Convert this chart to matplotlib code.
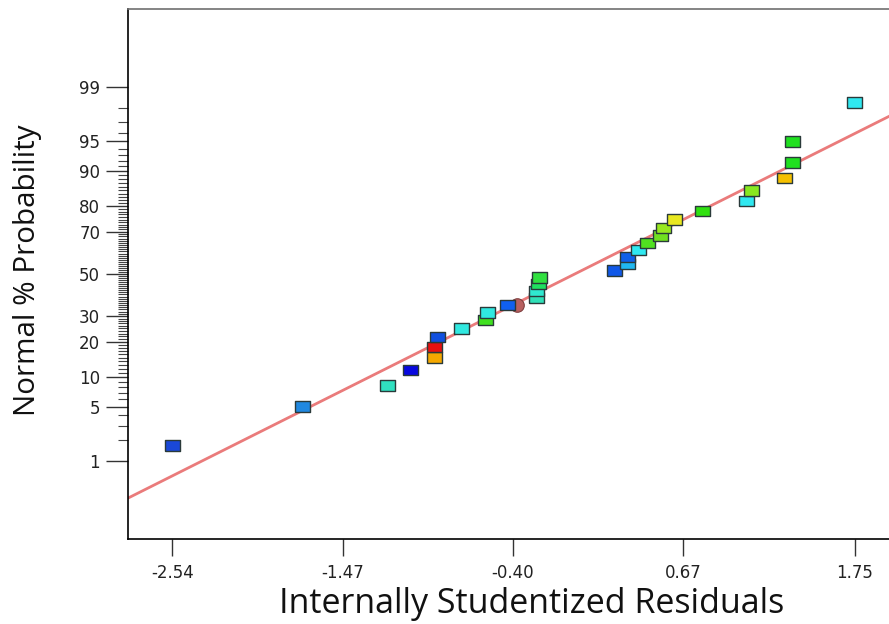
import matplotlib
matplotlib.use("Agg")
import matplotlib.pyplot as plt
import numpy as np
from statistics import NormalDist

# ---- data ----
residuals = [-2.54, -1.72, -1.19, -1.04, -0.89, -0.89, -0.87, -0.72, -0.57, -0.56,
             -0.43, -0.25, -0.25, -0.24, -0.23, 0.24, 0.32, 0.32, 0.39, 0.45,
             0.53, 0.55, 0.62, 0.79, 1.07, 1.10, 1.31, 1.36, 1.36, 1.75]
point_colors = ["#1a48d8", "#2088e0", "#30e0c0", "#0808e0", "#f5a800", "#e81010",
                "#1050e0", "#30e8e0", "#40e020", "#30e8e0", "#1060f0", "#30e0b8",
                "#30e8d0", "#20e060", "#30e040", "#1058e8", "#20b8f0", "#1060e8",
                "#30e8f0", "#50e020", "#70e020", "#98e820", "#e8e820", "#30e010",
                "#30e8f0", "#88e820", "#f5c000", "#20e020", "#20e020", "#30e8f0"]
hidden_x = [-0.375]
hidden_p = [0.35]
hidden_color = "#b86060"

line_mean = -0.01
line_sd = 1.01

x_ticks = [-2.54, -1.47, -0.40, 0.67, 1.75]
x_tick_labels = ["-2.54", "-1.47", "-0.40", "0.67", "1.75"]
y_ticks_pct = [1, 5, 10, 20, 30, 50, 70, 80, 90, 95, 99]
y_minor_pct = list(range(1, 100))

nd = NormalDist()
n = len(residuals)
order = np.argsort(residuals, kind="stable")
probs = [(i + 0.5) / n for i in range(n)]
z_pts = [nd.inv_cdf(p) for p in probs]

fig = plt.figure(figsize=(8.89, 6.24), dpi=100)
ax = fig.add_axes([128 / 889, 85 / 624, 770 / 889, 530 / 624])

xlim = (-2.8185, 2.022)
ax.set_xlim(*xlim)
ax.set_ylim(-3.288, 3.288)

# fitted line
xl = np.array(xlim)
ax.plot(xl, (xl - line_mean) / line_sd, color="#ea7b7b", lw=2.0, zorder=2)

# hidden circle marker
ax.scatter(hidden_x, [nd.inv_cdf(p) for p in hidden_p], s=95, marker="o",
           color=hidden_color, edgecolors="#804040", linewidths=0.8, zorder=3)

rect = [(-1, -0.7), (1, -0.7), (1, 0.7), (-1, 0.7), (-1, -0.7)]
xs = [residuals[k] for k in order]
cs = [point_colors[k] for k in order]
ax.scatter(xs, z_pts, s=10.8 ** 2, marker=rect, c=cs, edgecolors="#2a3a3a",
           linewidths=1.0, zorder=4)

# axes styling
for side in ["left", "bottom"]:
    ax.spines[side].set_color("black")
    ax.spines[side].set_linewidth(1.2)
ax.spines["top"].set_color("#707070")
ax.spines["top"].set_linewidth(1.2)
ax.spines["right"].set_visible(False)

tick_font = dict(family=["DejaVu Sans"], size=12)
ax.set_xticks(x_ticks)
ax.set_xticklabels(x_tick_labels, color="#222222", **tick_font)
ax.set_yticks([nd.inv_cdf(p / 100) for p in y_ticks_pct])
ax.set_yticklabels([str(p) for p in y_ticks_pct], color="#222222", **tick_font)
ax.set_yticks([nd.inv_cdf(p / 100) for p in y_minor_pct if p not in y_ticks_pct],
              minor=True)
ax.tick_params(axis="x", direction="out", length=12, width=1.0, pad=6, color="#333333")
ax.tick_params(axis="y", which="major", direction="out", length=16, width=1.0,
               pad=4, color="#333333")
ax.tick_params(axis="y", which="minor", direction="out", length=7, width=0.8,
               color="#444444")

fig.text(532 / 889, 1 - 604 / 624, "Internally Studentized Residuals",
         ha="center", va="center", color="#111111",
         family=["Open Sans", "DejaVu Sans"], size=24.5)
fig.text(28 / 889, 1 - 270 / 624, "Normal % Probability", rotation=90,
         ha="center", va="center", color="#111111",
         family=["Open Sans", "DejaVu Sans"], size=21.3)

fig.savefig("out.png", dpi=100)
